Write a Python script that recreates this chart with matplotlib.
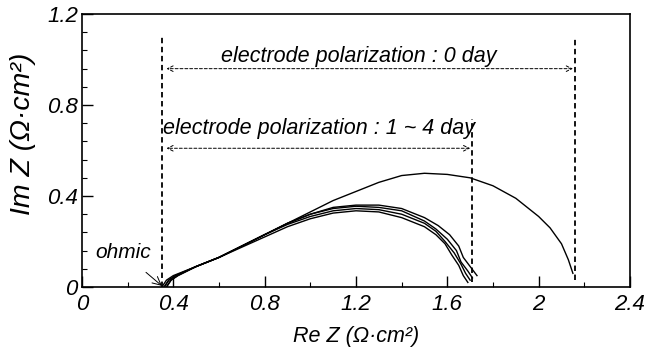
import matplotlib.pyplot as plt
import numpy as np

plt.rcParams['font.family'] = ['Liberation Sans', 'DejaVu Sans']
plt.rcParams['font.style'] = 'italic'

# impedance spectra, day 0
re0 = [0.35, 0.37, 0.40, 0.50, 0.60, 0.70, 0.80, 0.90, 1.00, 1.10, 1.20, 1.30,
       1.40, 1.50, 1.60, 1.70, 1.80, 1.90, 2.00, 2.05, 2.10, 2.13, 2.15]
im0 = [0.00, 0.03, 0.05, 0.09, 0.13, 0.18, 0.23, 0.28, 0.33, 0.38, 0.42, 0.46,
       0.49, 0.50, 0.495, 0.48, 0.445, 0.39, 0.31, 0.26, 0.19, 0.12, 0.06]

# days 1 - 4
re1 = [0.36, 0.38, 0.41, 0.50, 0.60, 0.70, 0.80, 0.90, 1.00, 1.10, 1.20, 1.30,
       1.40, 1.50, 1.56, 1.61, 1.65, 1.67, 1.70, 1.73]
im1 = [0.00, 0.03, 0.05, 0.09, 0.13, 0.18, 0.23, 0.28, 0.32, 0.35, 0.36, 0.36,
       0.345, 0.305, 0.27, 0.23, 0.18, 0.13, 0.09, 0.05]
re2 = [0.36, 0.38, 0.41, 0.50, 0.60, 0.70, 0.80, 0.90, 1.00, 1.10, 1.20, 1.30,
       1.40, 1.50, 1.55, 1.60, 1.64, 1.66, 1.69, 1.71]
im2 = [0.00, 0.03, 0.05, 0.09, 0.13, 0.18, 0.23, 0.28, 0.32, 0.345, 0.355, 0.35,
       0.335, 0.29, 0.255, 0.21, 0.16, 0.11, 0.07, 0.04]
re3 = [0.37, 0.39, 0.42, 0.50, 0.60, 0.70, 0.80, 0.90, 1.00, 1.10, 1.20, 1.30,
       1.40, 1.50, 1.55, 1.59, 1.63, 1.66, 1.68, 1.70]
im3 = [0.00, 0.03, 0.05, 0.09, 0.13, 0.18, 0.23, 0.275, 0.31, 0.335, 0.345, 0.34,
       0.32, 0.28, 0.245, 0.20, 0.15, 0.10, 0.06, 0.03]
re4 = [0.37, 0.39, 0.42, 0.50, 0.60, 0.70, 0.80, 0.90, 1.00, 1.10, 1.20, 1.30,
       1.40, 1.50, 1.55, 1.59, 1.62, 1.65, 1.67, 1.69]
im4 = [0.00, 0.03, 0.05, 0.09, 0.13, 0.175, 0.22, 0.265, 0.30, 0.325, 0.335, 0.33,
       0.305, 0.265, 0.23, 0.19, 0.14, 0.095, 0.05, 0.02]

ohmic_x = 0.35
end_0day = 2.16
end_4day = 1.71

fig = plt.figure(figsize=(6.49, 3.52), dpi=100)
ax = fig.add_axes([0.1263, 0.1847, 0.8444, 0.7753])

ax.plot(re0, im0, color='black', lw=1.0)
for x, y in [(re1, im1), (re2, im2), (re3, im3), (re4, im4)]:
    ax.plot(x, y, color='black', lw=1.0)

ax.plot([ohmic_x, ohmic_x], [0, 1.10], color='black', lw=1.3, ls=(0, (3, 2)))
ax.plot([end_0day, end_0day], [0.03, 1.09], color='black', lw=1.3, ls=(0, (3, 2)))
ax.plot([end_4day, end_4day], [0.02, 0.74], color='black', lw=1.3, ls=(0, (3, 2)))

arrow = dict(arrowstyle='<->', color='black', lw=0.7, ls=(0, (3, 2)),
             shrinkA=0, shrinkB=0, mutation_scale=10)
ax.annotate('', xy=(ohmic_x + 0.02, 0.96), xytext=(end_0day - 0.01, 0.96), arrowprops=arrow)
ax.annotate('', xy=(ohmic_x + 0.02, 0.61), xytext=(end_4day - 0.01, 0.61), arrowprops=arrow)

ax.text(1.21, 1.015, 'electrode polarization : 0 day', ha='center', va='center', fontsize=15.5)
ax.text(1.04, 0.695, 'electrode polarization : 1 ~ 4 day', ha='center', va='center', fontsize=15.5)
ax.annotate('ohmic', xy=(ohmic_x, 0.005), xytext=(0.18, 0.15), ha='center', va='center',
            fontsize=15, arrowprops=dict(arrowstyle='->', color='black', lw=0.7,
                                         shrinkA=8, shrinkB=0))

ax.set_xlim(0, 2.4)
ax.set_ylim(0, 1.2)
ax.set_xticks(np.arange(0, 2.41, 0.4))
ax.set_xticklabels(['0', '0.4', '0.8', '1.2', '1.6', '2', '2.4'])
ax.set_xticks(np.arange(0.2, 2.4, 0.4), minor=True)
ax.set_yticks([0, 0.4, 0.8, 1.2])
ax.set_yticklabels(['0', '0.4', '0.8', '1.2'])
ax.set_yticks(np.arange(0, 1.2, 0.08), minor=True)
ax.tick_params(which='major', direction='in', length=8, width=1, labelsize=16)
ax.tick_params(axis='y', which='major', pad=3)
ax.tick_params(axis='x', which='major', pad=5)
ax.tick_params(which='minor', direction='in', length=3.5, width=0.8)
for s in ax.spines.values():
    s.set_linewidth(1.2)

ax.set_xlabel('Re Z (Ω·cm²)', fontsize=15.5, labelpad=8)
ax.set_ylabel('Im Z (Ω·cm²)', fontsize=20.5)
ax.yaxis.set_label_coords(-0.083, 0.56)

fig.savefig('out.png', dpi=100)
